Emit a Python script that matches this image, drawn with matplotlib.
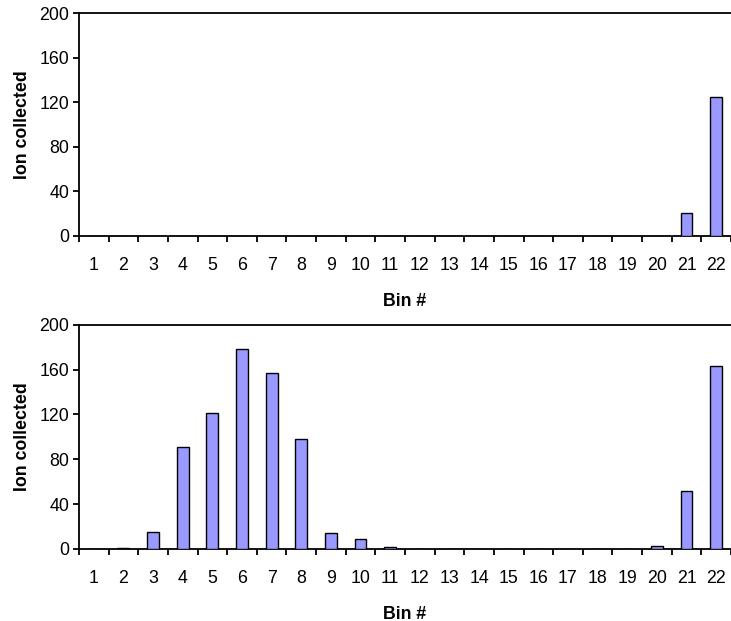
import matplotlib
matplotlib.use("Agg")
import matplotlib.pyplot as plt
import numpy as np

bins = [str(i) for i in range(1, 23)]
top_values = [0, 0, 0, 0, 0, 0, 0, 0, 0, 0, 0, 0, 0, 0, 0, 0, 0, 0, 0, 0, 21, 125]
bottom_values = [0, 1, 15, 91, 121, 178, 157, 98, 14, 9, 2, 0, 0, 0, 0, 0, 0, 0, 0, 3, 52, 163]
y_ticks = [0, 40, 80, 120, 160, 200]

plt.rcParams['font.family'] = ['Liberation Sans', 'DejaVu Sans']
fs = 12.8

fig = plt.figure(figsize=(7.31, 6.21), dpi=100)
ax1 = fig.add_axes([0.108, 0.620, 0.892, 0.359])
ax2 = fig.add_axes([0.108, 0.116, 0.892, 0.361])

for ax, vals in [(ax1, top_values), (ax2, bottom_values)]:
    x = np.arange(len(bins))
    ax.bar(x, vals, width=0.4, color='#9999FF', edgecolor='black', linewidth=1.0, zorder=3)
    ax.set_xlim(-0.5, len(bins) - 0.5)
    ax.set_ylim(0, 200)
    ax.set_yticks(y_ticks)
    ax.set_xticks(x)
    ax.set_xticklabels(bins)
    ax.set_xticks(np.arange(len(bins) + 1) - 0.5, minor=True)
    ax.tick_params(axis='x', which='major', length=0, pad=15, labelsize=fs)
    ax.tick_params(axis='x', which='minor', length=4.5, width=1.3, direction='out')
    ax.tick_params(axis='y', length=4, width=1.3, direction='out', pad=3, labelsize=fs)
    for s in ['left', 'bottom', 'top']:
        ax.spines[s].set_linewidth(1.3)
    ax.spines['right'].set_visible(False)
    ax.set_ylabel('Ion collected', fontweight='bold', fontsize=fs, labelpad=6)
    ax.set_xlabel('Bin #', fontweight='bold', fontsize=fs, labelpad=13.5)

fig.savefig('out.png', dpi=100)
